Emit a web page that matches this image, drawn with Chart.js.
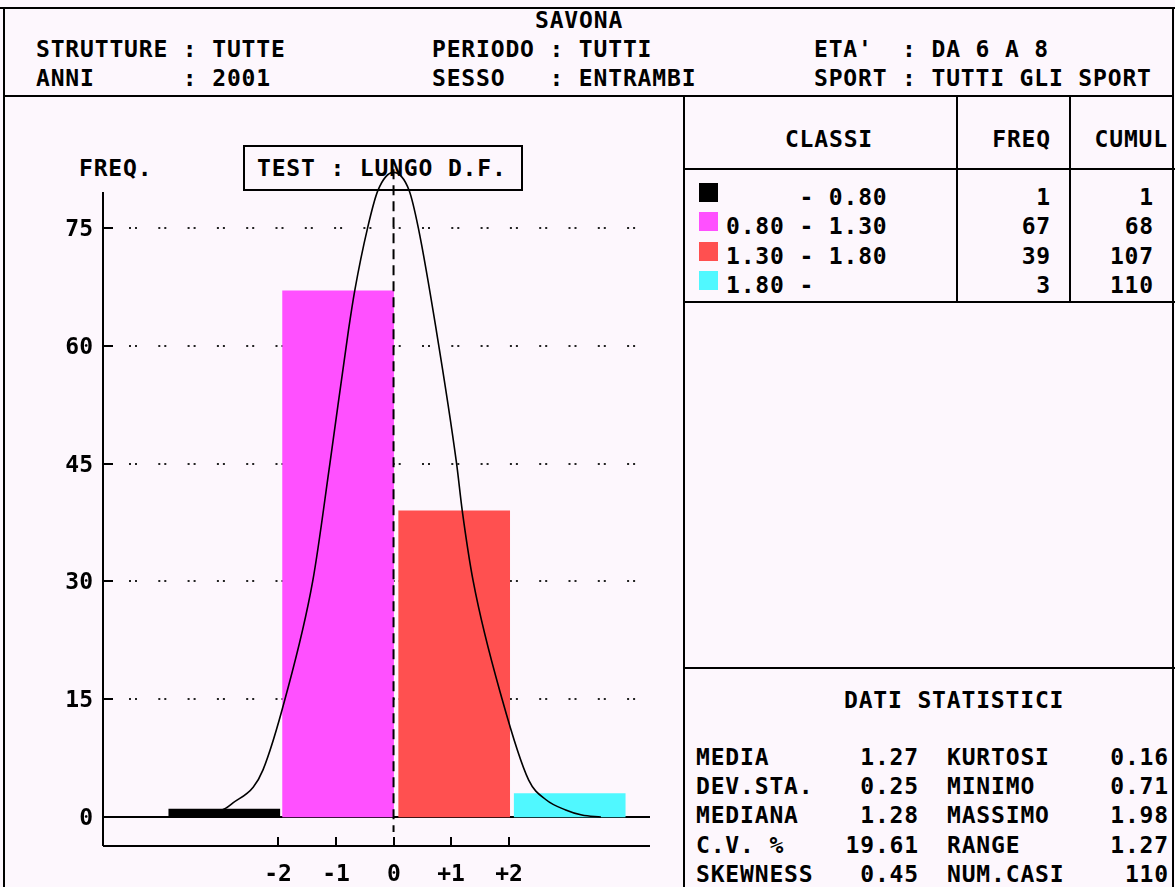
<!DOCTYPE html>
<html>
<head>
<meta charset="utf-8">
<script src="https://cdn.jsdelivr.net/npm/chart.js@4.4.1/dist/chart.umd.min.js"></script>
<style>
    html, body { margin: 0; padding: 0; }
    body {
        width: 1175px; height: 887px; position: relative; overflow: hidden;
        background: #fdf7fd; color: #000;
        font-family: "DejaVu Sans Mono", monospace; font-weight: bold; font-size: 23px;
    }
    .t { position: absolute; white-space: pre; line-height: 23px; letter-spacing: 0.84px; }
    .ln { position: absolute; background: #000; }
    .box { position: absolute; border: 2px solid #000; box-sizing: border-box; }
    #wrap { position: absolute; left: 0; top: 0; width: 1175px; height: 887px; }
</style>
</head>
<body>
<div id="page"></div>
<div id="wrap"><canvas id="histChart" width="1175" height="887"></canvas></div>

<script>
// ============= Data =============
const headerTitle = 'SAVONA';
const headerLeft = ['STRUTTURE : TUTTE', 'ANNI      : 2001'];
const headerMid = ['PERIODO : TUTTI', 'SESSO   : ENTRAMBI'];
const headerRight = ["ETA'  : DA 6 A 8", 'SPORT : TUTTI GLI SPORT'];
const testLabel = 'TEST : LUNGO D.F.';
const yAxisTitle = 'FREQ.';

const classLabels = ['     - 0.80', '0.80 - 1.30', '1.30 - 1.80', '1.80 -'];
const freq = [1, 67, 39, 3];
const cumul = [1, 68, 107, 110];
const barPos = [-2.93, -0.96, 1.05, 3.05];   // bar centres on the z axis

const yTicks = [0, 15, 30, 45, 60, 75];
const xTicks = [-2, -1, 0, 1, 2];
const xTickLabels = ['-2', '-1', '0', '+1', '+2'];

// normal curve (z, freq)
const curveZ = [-3.6, -3.2, -2.91, -2.78, -2.43, -2.26, -1.88, -1.40, -1.10, -0.78, -0.67, -0.45, -0.27, 0,
                0.27, 0.43, 0.74, 1.09, 1.19, 1.38, 1.88, 2.34, 2.64, 2.98, 3.26, 3.59];
const curveF = [0, 0.3, 1.1, 1.8, 3.8, 6.0, 15.0, 30.0, 45.1, 62.0, 67.1, 75.0, 79.8, 82.1,
                79.8, 75.0, 62.0, 45.1, 39.0, 30.0, 15.0, 4.7, 2.2, 0.9, 0.25, 0];
const meanLine = [82.5, -1.9];

const statNames1 = ['MEDIA', 'DEV.STA.', 'MEDIANA', 'C.V. %', 'SKEWNESS'];
const statValues1 = ['1.27', '0.25', '1.28', '19.61', '0.45'];
const statNames2 = ['KURTOSI', 'MINIMO', 'MASSIMO', 'RANGE', 'NUM.CASI'];
const statValues2 = ['0.16', '0.71', '1.98', '1.27', '110'];

// ============= Styles =============
const classColors = ['#000000', '#ff50ff', '#ff5050', '#50f8ff'];
const FONT = 'bold 23px "DejaVu Sans Mono", monospace';

// ============= Page frame and texts =============
const page = document.getElementById('page');

function line(x, y, w, h) {
    const d = document.createElement('div');
    d.className = 'ln';
    Object.assign(d.style, { left: x + 'px', top: y + 'px', width: w + 'px', height: h + 'px' });
    page.appendChild(d);
}

// cy = vertical centre of the capitals
function text(str, x, cy, align) {
    const d = document.createElement('div');
    d.className = 't';
    d.textContent = str;
    d.style.top = (cy - 11) + 'px';
    if (align === 'right') d.style.right = (1175 - x) + 'px';
    else if (align === 'center') { d.style.left = (x - 300) + 'px'; d.style.width = '600px'; d.style.textAlign = 'center'; }
    else d.style.left = x + 'px';
    page.appendChild(d);
}

// outer frame and panel dividers
line(0, 7, 1175, 2);
line(3, 7, 2, 880);
line(1172, 7, 2, 880);
line(3, 95, 1171, 2);
line(683, 95, 2, 792);
line(683, 168, 492, 2);
line(683, 301, 492, 2);
line(956, 95, 2, 207);
line(1069, 95, 2, 207);
line(683, 667, 492, 2);

text(headerTitle, 535, 20);
headerLeft.forEach((s, i) => text(s, 36, 49 + i * 29));
headerMid.forEach((s, i) => text(s, 432, 49 + i * 29));
headerRight.forEach((s, i) => text(s, 814, 49 + i * 29));

// chart panel labels (box sits under the canvas, the curve passes over it)
text(yAxisTitle, 79, 168);
const box = document.createElement('div');
box.className = 'box';
Object.assign(box.style, { left: '243px', top: '145px', width: '280px', height: '46px' });
page.appendChild(box);
text(testLabel, 257, 168);

// class table
text('CLASSI', 829, 139, 'center');
text('FREQ', 1051, 139, 'right');
text('CUMUL', 1168, 139, 'right');
classLabels.forEach((s, i) => {
    const cy = 197 + i * 29.3;
    const sq = document.createElement('div');
    Object.assign(sq.style, { position: 'absolute', left: '699px', top: (cy - 14) + 'px', width: '19px', height: '19px', background: classColors[i] });
    page.appendChild(sq);
    text(s, 726, cy);
    text(String(freq[i]), 1051, cy, 'right');
    text(String(cumul[i]), 1154, cy, 'right');
});

// statistics
text('DATI STATISTICI', 844, 700);
statNames1.forEach((s, i) => {
    const cy = 757 + i * 29.2;
    text(s, 696, cy);
    text(statValues1[i], 919, cy, 'right');
    text(statNames2[i], 947, cy);
    text(statValues2[i], 1169, cy, 'right');
});

// ============= Chart =============
const dosAxes = {
    id: 'dosAxes',
    beforeDatasetsDraw(chart) {
        const { ctx, chartArea: a, scales: { x, y } } = chart;
        ctx.save();
        ctx.fillStyle = '#000';

        // dotted grid ". ." pairs
        ctx.strokeStyle = '#222';
        ctx.lineWidth = 2;
        ctx.setLineDash([2, 4, 2, 21.3]);
        yTicks.forEach(v => {
            if (v === 0) return;
            const py = Math.round(y.getPixelForValue(v));
            ctx.beginPath();
            ctx.moveTo(a.left + 26, py);
            ctx.lineTo(a.right - 12, py);
            ctx.stroke();
        });
        ctx.setLineDash([]);
        ctx.strokeStyle = '#000';

        // axes
        const y0 = Math.round(y.getPixelForValue(0));
        ctx.beginPath();
        ctx.moveTo(a.left, a.top); ctx.lineTo(a.left, a.bottom);
        ctx.moveTo(a.left, a.bottom); ctx.lineTo(a.right, a.bottom);
        ctx.moveTo(a.left, y0); ctx.lineTo(a.right, y0);
        ctx.stroke();

        // ticks + labels
        ctx.font = FONT;
        ctx.textAlign = 'right';
        ctx.textBaseline = 'alphabetic';
        yTicks.forEach(v => {
            const py = Math.round(y.getPixelForValue(v));
            ctx.beginPath();
            ctx.moveTo(a.left, py); ctx.lineTo(a.left + 10, py);
            ctx.stroke();
            ctx.fillText(String(v), a.left - 10, py + 8);
        });
        ctx.textAlign = 'center';
        xTicks.forEach((v, i) => {
            const px = Math.round(x.getPixelForValue(v));
            ctx.beginPath();
            ctx.moveTo(px, a.bottom); ctx.lineTo(px, a.bottom - 9);
            ctx.stroke();
            ctx.fillText(xTickLabels[i], px, 881);
        });
        ctx.restore();
    }
};

new Chart(document.getElementById('histChart'), {
    type: 'bar',
    data: {
        datasets: [
            {
                type: 'line',
                data: meanLine.map(v => ({ x: 0, y: v })),
                borderColor: '#000',
                borderWidth: 2,
                borderDash: [10, 6],
                pointRadius: 0,
                tension: 0,
                clip: false,
                order: 0
            },
            {
                type: 'line',
                data: curveZ.map((z, i) => ({ x: z, y: curveF[i] })),
                borderColor: '#000',
                borderWidth: 1.6,
                pointRadius: 0,
                cubicInterpolationMode: 'monotone',
                clip: false,
                order: 1
            },
            {
                data: barPos.map((p, i) => ({ x: p, y: freq[i] })),
                backgroundColor: classColors,
                borderWidth: 0,
                barThickness: 111,
                order: 2
            }
        ]
    },
    options: {
        responsive: false,
        animation: false,
        layout: { padding: { left: 103, top: 192, right: 525, bottom: 41 } },
        plugins: { legend: { display: false }, tooltip: { enabled: false } },
        scales: {
            x: { type: 'linear', min: -5.03, max: 4.44, offset: false, display: false },
            y: { min: -3.69, max: 79.6, display: false }
        }
    },
    plugins: [dosAxes]
});
</script>
</body>
</html>
